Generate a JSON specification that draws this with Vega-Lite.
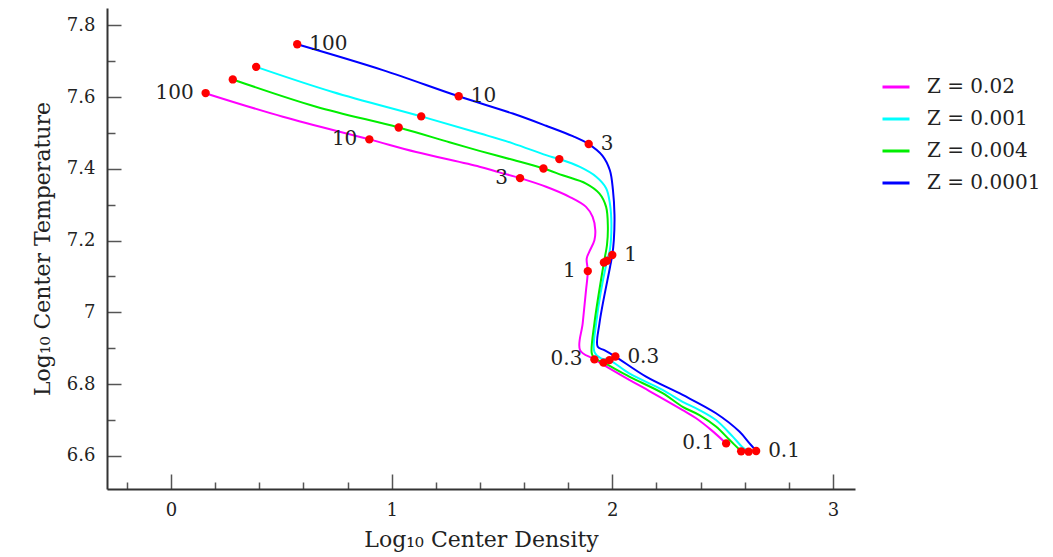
{
  "$schema": "https://vega.github.io/schema/vega-lite/v6.json",
  "width": 748,
  "height": 481,
  "autosize": "none",
  "padding": {"left": 107, "top": 8, "right": 198, "bottom": 68},
  "background": "white",
  "config": {"view": {"stroke": null}, "font": "DejaVu Serif"},
  "datasets": {
    "tracks": [
      {"series": "Z = 0.02", "i": 1, "x": 0.159, "y": 7.610},
      {"series": "Z = 0.02", "i": 2, "x": 0.507, "y": 7.545},
      {"series": "Z = 0.02", "i": 3, "x": 0.899, "y": 7.482},
      {"series": "Z = 0.02", "i": 4, "x": 1.111, "y": 7.447},
      {"series": "Z = 0.02", "i": 5, "x": 1.398, "y": 7.406},
      {"series": "Z = 0.02", "i": 6, "x": 1.488, "y": 7.390},
      {"series": "Z = 0.02", "i": 7, "x": 1.582, "y": 7.374},
      {"series": "Z = 0.02", "i": 8, "x": 1.700, "y": 7.350},
      {"series": "Z = 0.02", "i": 9, "x": 1.806, "y": 7.322},
      {"series": "Z = 0.02", "i": 10, "x": 1.881, "y": 7.294},
      {"series": "Z = 0.02", "i": 11, "x": 1.911, "y": 7.266},
      {"series": "Z = 0.02", "i": 12, "x": 1.923, "y": 7.229},
      {"series": "Z = 0.02", "i": 13, "x": 1.919, "y": 7.201},
      {"series": "Z = 0.02", "i": 14, "x": 1.896, "y": 7.169},
      {"series": "Z = 0.02", "i": 15, "x": 1.884, "y": 7.150},
      {"series": "Z = 0.02", "i": 16, "x": 1.889, "y": 7.115},
      {"series": "Z = 0.02", "i": 17, "x": 1.881, "y": 7.062},
      {"series": "Z = 0.02", "i": 18, "x": 1.866, "y": 6.970},
      {"series": "Z = 0.02", "i": 19, "x": 1.854, "y": 6.895},
      {"series": "Z = 0.02", "i": 20, "x": 1.919, "y": 6.869},
      {"series": "Z = 0.02", "i": 21, "x": 2.077, "y": 6.812},
      {"series": "Z = 0.02", "i": 22, "x": 2.168, "y": 6.781},
      {"series": "Z = 0.02", "i": 23, "x": 2.319, "y": 6.728},
      {"series": "Z = 0.02", "i": 24, "x": 2.380, "y": 6.705},
      {"series": "Z = 0.02", "i": 25, "x": 2.449, "y": 6.672},
      {"series": "Z = 0.02", "i": 26, "x": 2.516, "y": 6.635},

      {"series": "Z = 0.001", "i": 1, "x": 0.386, "y": 7.684},
      {"series": "Z = 0.001", "i": 2, "x": 0.733, "y": 7.614},
      {"series": "Z = 0.001", "i": 3, "x": 1.134, "y": 7.546},
      {"series": "Z = 0.001", "i": 4, "x": 1.398, "y": 7.499},
      {"series": "Z = 0.001", "i": 5, "x": 1.549, "y": 7.471},
      {"series": "Z = 0.001", "i": 6, "x": 1.700, "y": 7.438},
      {"series": "Z = 0.001", "i": 7, "x": 1.760, "y": 7.427},
      {"series": "Z = 0.001", "i": 8, "x": 1.851, "y": 7.406},
      {"series": "Z = 0.001", "i": 9, "x": 1.927, "y": 7.378},
      {"series": "Z = 0.001", "i": 10, "x": 1.972, "y": 7.346},
      {"series": "Z = 0.001", "i": 11, "x": 1.989, "y": 7.304},
      {"series": "Z = 0.001", "i": 12, "x": 1.996, "y": 7.243},
      {"series": "Z = 0.001", "i": 13, "x": 1.989, "y": 7.174},
      {"series": "Z = 0.001", "i": 14, "x": 1.976, "y": 7.144},
      {"series": "Z = 0.001", "i": 15, "x": 1.927, "y": 6.970},
      {"series": "Z = 0.001", "i": 16, "x": 1.919, "y": 6.890},
      {"series": "Z = 0.001", "i": 17, "x": 1.949, "y": 6.872},
      {"series": "Z = 0.001", "i": 18, "x": 1.987, "y": 6.867},
      {"series": "Z = 0.001", "i": 19, "x": 2.077, "y": 6.830},
      {"series": "Z = 0.001", "i": 20, "x": 2.228, "y": 6.784},
      {"series": "Z = 0.001", "i": 21, "x": 2.319, "y": 6.751},
      {"series": "Z = 0.001", "i": 22, "x": 2.395, "y": 6.728},
      {"series": "Z = 0.001", "i": 23, "x": 2.470, "y": 6.700},
      {"series": "Z = 0.001", "i": 24, "x": 2.546, "y": 6.654},
      {"series": "Z = 0.001", "i": 25, "x": 2.589, "y": 6.625},
      {"series": "Z = 0.001", "i": 26, "x": 2.618, "y": 6.612},

      {"series": "Z = 0.004", "i": 1, "x": 0.280, "y": 7.649},
      {"series": "Z = 0.004", "i": 2, "x": 0.658, "y": 7.573},
      {"series": "Z = 0.004", "i": 3, "x": 1.032, "y": 7.515},
      {"series": "Z = 0.004", "i": 4, "x": 1.262, "y": 7.474},
      {"series": "Z = 0.004", "i": 5, "x": 1.398, "y": 7.450},
      {"series": "Z = 0.004", "i": 6, "x": 1.549, "y": 7.425},
      {"series": "Z = 0.004", "i": 7, "x": 1.688, "y": 7.401},
      {"series": "Z = 0.004", "i": 8, "x": 1.775, "y": 7.382},
      {"series": "Z = 0.004", "i": 9, "x": 1.881, "y": 7.359},
      {"series": "Z = 0.004", "i": 10, "x": 1.942, "y": 7.331},
      {"series": "Z = 0.004", "i": 11, "x": 1.972, "y": 7.294},
      {"series": "Z = 0.004", "i": 12, "x": 1.980, "y": 7.238},
      {"series": "Z = 0.004", "i": 13, "x": 1.976, "y": 7.188},
      {"series": "Z = 0.004", "i": 14, "x": 1.962, "y": 7.139},
      {"series": "Z = 0.004", "i": 15, "x": 1.919, "y": 6.970},
      {"series": "Z = 0.004", "i": 16, "x": 1.907, "y": 6.886},
      {"series": "Z = 0.004", "i": 17, "x": 1.919, "y": 6.872},
      {"series": "Z = 0.004", "i": 18, "x": 1.960, "y": 6.860},
      {"series": "Z = 0.004", "i": 19, "x": 2.077, "y": 6.821},
      {"series": "Z = 0.004", "i": 20, "x": 2.228, "y": 6.775},
      {"series": "Z = 0.004", "i": 21, "x": 2.319, "y": 6.737},
      {"series": "Z = 0.004", "i": 22, "x": 2.395, "y": 6.714},
      {"series": "Z = 0.004", "i": 23, "x": 2.470, "y": 6.682},
      {"series": "Z = 0.004", "i": 24, "x": 2.531, "y": 6.645},
      {"series": "Z = 0.004", "i": 25, "x": 2.584, "y": 6.613},

      {"series": "Z = 0.0001", "i": 1, "x": 0.572, "y": 7.747},
      {"series": "Z = 0.0001", "i": 2, "x": 0.960, "y": 7.675},
      {"series": "Z = 0.0001", "i": 3, "x": 1.304, "y": 7.602},
      {"series": "Z = 0.0001", "i": 4, "x": 1.549, "y": 7.554},
      {"series": "Z = 0.0001", "i": 5, "x": 1.700, "y": 7.520},
      {"series": "Z = 0.0001", "i": 6, "x": 1.821, "y": 7.491},
      {"series": "Z = 0.0001", "i": 7, "x": 1.893, "y": 7.469},
      {"series": "Z = 0.0001", "i": 8, "x": 1.955, "y": 7.437},
      {"series": "Z = 0.0001", "i": 9, "x": 1.989, "y": 7.396},
      {"series": "Z = 0.0001", "i": 10, "x": 2.003, "y": 7.341},
      {"series": "Z = 0.0001", "i": 11, "x": 2.010, "y": 7.271},
      {"series": "Z = 0.0001", "i": 12, "x": 2.007, "y": 7.201},
      {"series": "Z = 0.0001", "i": 13, "x": 2.000, "y": 7.160},
      {"series": "Z = 0.0001", "i": 14, "x": 1.990, "y": 7.127},
      {"series": "Z = 0.0001", "i": 15, "x": 1.942, "y": 6.970},
      {"series": "Z = 0.0001", "i": 16, "x": 1.934, "y": 6.904},
      {"series": "Z = 0.0001", "i": 17, "x": 1.964, "y": 6.895},
      {"series": "Z = 0.0001", "i": 18, "x": 2.014, "y": 6.877},
      {"series": "Z = 0.0001", "i": 19, "x": 2.153, "y": 6.821},
      {"series": "Z = 0.0001", "i": 20, "x": 2.319, "y": 6.770},
      {"series": "Z = 0.0001", "i": 21, "x": 2.470, "y": 6.719},
      {"series": "Z = 0.0001", "i": 22, "x": 2.576, "y": 6.668},
      {"series": "Z = 0.0001", "i": 23, "x": 2.621, "y": 6.636},
      {"series": "Z = 0.0001", "i": 24, "x": 2.652, "y": 6.614}
    ],
    "points": [
      {"series": "Z = 0.02", "mass": "100", "x": 0.157, "y": 7.611},
      {"series": "Z = 0.02", "mass": "10", "x": 0.899, "y": 7.482},
      {"series": "Z = 0.02", "mass": "3", "x": 1.582, "y": 7.374},
      {"series": "Z = 0.02", "mass": "1", "x": 1.889, "y": 7.115},
      {"series": "Z = 0.02", "mass": "0.3", "x": 1.919, "y": 6.869},
      {"series": "Z = 0.02", "mass": "0.1", "x": 2.516, "y": 6.635},
      {"series": "Z = 0.001", "mass": "100", "x": 0.386, "y": 7.684},
      {"series": "Z = 0.001", "mass": "10", "x": 1.134, "y": 7.546},
      {"series": "Z = 0.001", "mass": "3", "x": 1.760, "y": 7.427},
      {"series": "Z = 0.001", "mass": "1", "x": 1.976, "y": 7.144},
      {"series": "Z = 0.001", "mass": "0.3", "x": 1.987, "y": 6.867},
      {"series": "Z = 0.001", "mass": "0.1", "x": 2.618, "y": 6.612},
      {"series": "Z = 0.004", "mass": "100", "x": 0.280, "y": 7.649},
      {"series": "Z = 0.004", "mass": "10", "x": 1.032, "y": 7.515},
      {"series": "Z = 0.004", "mass": "3", "x": 1.688, "y": 7.401},
      {"series": "Z = 0.004", "mass": "1", "x": 1.962, "y": 7.139},
      {"series": "Z = 0.004", "mass": "0.3", "x": 1.960, "y": 6.860},
      {"series": "Z = 0.004", "mass": "0.1", "x": 2.584, "y": 6.613},
      {"series": "Z = 0.0001", "mass": "100", "x": 0.572, "y": 7.747},
      {"series": "Z = 0.0001", "mass": "10", "x": 1.304, "y": 7.602},
      {"series": "Z = 0.0001", "mass": "3", "x": 1.893, "y": 7.469},
      {"series": "Z = 0.0001", "mass": "1", "x": 2.000, "y": 7.160},
      {"series": "Z = 0.0001", "mass": "0.3", "x": 2.014, "y": 6.877},
      {"series": "Z = 0.0001", "mass": "0.1", "x": 2.652, "y": 6.614}
    ]
  },
  "layer": [
    {
      "data": {"name": "tracks"},
      "mark": {"type": "line", "strokeWidth": 2, "interpolate": "catmull-rom"},
      "encoding": {
        "x": {
          "field": "x", "type": "quantitative",
          "scale": {"domain": [-0.29, 3.1], "nice": false, "zero": false},
          "title": "Log₁₀ Center Density",
          "axis": {
            "values": [-0.2, 0, 0.2, 0.4, 0.6, 0.8, 1, 1.2, 1.4, 1.6, 1.8, 2, 2.2, 2.4, 2.6, 2.8, 3],
            "labelExpr": "abs(datum.value - round(datum.value)) < 0.001 ? format(datum.value, 'd') : ''",
            "tickSize": {"condition": {"test": "abs(datum.value - round(datum.value)) < 0.001", "value": -15}, "value": -7},
            "labelPadding": 27,
            "grid": false,
            "domainColor": "#333333", "domainWidth": 2,
            "tickColor": "#555555", "tickWidth": 1.5,
            "labelFont": "DejaVu Serif", "labelFontSize": 18, "labelColor": "#222222",
            "labelFlush": false, "labelOverlap": false,
            "titleFont": "DejaVu Serif", "titleFontSize": 22, "titleFontWeight": "normal", "titleColor": "#222222",
            "titlePadding": 2
          }
        },
        "y": {
          "field": "y", "type": "quantitative",
          "scale": {"domain": [6.508, 7.848], "nice": false, "zero": false},
          "title": "Log₁₀ Center Temperature",
          "axis": {
            "values": [6.6, 6.7, 6.8, 6.9, 7, 7.1, 7.2, 7.3, 7.4, 7.5, 7.6, 7.7, 7.8],
            "labelExpr": "abs(datum.value * 5 - round(datum.value * 5)) < 0.001 ? format(datum.value, '.1~f') : ''",
            "tickSize": {"condition": {"test": "abs(datum.value * 5 - round(datum.value * 5)) < 0.001", "value": -14}, "value": -8},
            "labelPadding": 26,
            "grid": false,
            "domainColor": "#333333", "domainWidth": 2,
            "tickColor": "#555555", "tickWidth": 1.5,
            "labelFont": "DejaVu Serif", "labelFontSize": 18, "labelColor": "#222222",
            "labelFlush": false, "labelOverlap": false,
            "titleFont": "DejaVu Serif", "titleFontSize": 22, "titleFontWeight": "normal", "titleColor": "#222222",
            "titlePadding": 12
          }
        },
        "color": {
          "field": "series", "type": "nominal",
          "scale": {"domain": ["Z = 0.02", "Z = 0.001", "Z = 0.004", "Z = 0.0001"], "range": ["#ff00ff", "#00ffff", "#00ee00", "#0000ff"]},
          "legend": {
            "title": null, "orient": "none", "legendX": 774, "legendY": 64,
            "symbolType": "stroke", "symbolSize": 729, "symbolStrokeWidth": 3,
            "labelFont": "DejaVu Serif", "labelFontSize": 20, "labelColor": "#222222",
            "labelOffset": 16, "rowPadding": 7, "padding": 0
          }
        },
        "order": {"field": "i", "type": "quantitative"}
      }
    },
    {
      "data": {"name": "points"},
      "mark": {"type": "circle", "size": 70, "color": "#ff0000", "opacity": 1},
      "encoding": {
        "x": {"field": "x", "type": "quantitative"},
        "y": {"field": "y", "type": "quantitative"}
      }
    },
    {
      "data": {"name": "points"},
      "transform": [{"filter": "datum.series === 'Z = 0.0001'"}],
      "mark": {"type": "text", "align": "left", "baseline": "middle", "dx": 12, "fontSize": 20, "font": "DejaVu Serif", "color": "#222222"},
      "encoding": {
        "x": {"field": "x", "type": "quantitative"},
        "y": {"field": "y", "type": "quantitative"},
        "text": {"field": "mass"}
      }
    },
    {
      "data": {"name": "points"},
      "transform": [{"filter": "datum.series === 'Z = 0.02'"}],
      "mark": {"type": "text", "align": "right", "baseline": "middle", "dx": -12, "fontSize": 20, "font": "DejaVu Serif", "color": "#222222"},
      "encoding": {
        "x": {"field": "x", "type": "quantitative"},
        "y": {"field": "y", "type": "quantitative"},
        "text": {"field": "mass"}
      }
    }
  ]
}
